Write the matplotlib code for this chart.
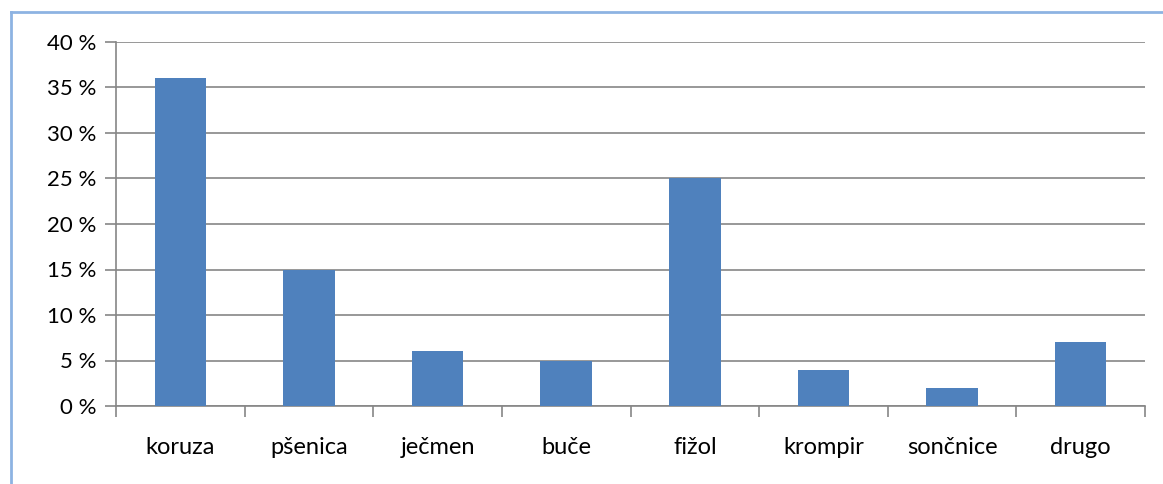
import matplotlib.pyplot as plt
from matplotlib.lines import Line2D

categories = ['koruza', 'pšenica', 'ječmen', 'buče', 'fižol', 'krompir', 'sončnice', 'drugo']
values = [36, 15, 6, 5, 25, 4, 2, 7]
y_ticks = [0, 5, 10, 15, 20, 25, 30, 35, 40]
y_labels = [f'{v} %' for v in y_ticks]

plt.rcParams['font.family'] = ['Lato', 'DejaVu Sans']

fig = plt.figure(figsize=(11.63, 4.84), dpi=100)
ax = fig.add_axes([116 / 1163, 1 - 406 / 484, (1145 - 116) / 1163, (406 - 42) / 484])

x = list(range(len(categories)))
ax.bar(x, values, width=0.4, color='#4F81BD', zorder=3)

ax.set_xlim(-0.5, len(categories) - 0.5)
ax.set_ylim(0, 40)
ax.set_yticks(y_ticks)
ax.set_yticklabels(y_labels, fontsize=16)
ax.set_xticks(x)
ax.set_xticklabels(categories, fontsize=17)
ax.tick_params(axis='x', length=0, pad=22)
ax.tick_params(axis='y', length=8, width=1.2, color='#868686', pad=6)

# category boundary ticks on x axis
ax.set_xticks([i - 0.5 for i in range(len(categories) + 1)], minor=True)
ax.tick_params(axis='x', which='minor', length=8, width=1.2, color='#868686')

ax.grid(axis='y', color='#868686', linewidth=1.2, zorder=0)
for side in ['top', 'right']:
    ax.spines[side].set_visible(False)
ax.spines['left'].set_color('#868686')
ax.spines['bottom'].set_color('#868686')
ax.spines['left'].set_linewidth(1.2)
ax.spines['bottom'].set_linewidth(1.2)

# light blue frame around the chart (left and top visible)
fig.add_artist(Line2D([10.5 / 1163, 10.5 / 1163], [0, 1 - 12 / 484],
                      color='#8DB3E2', linewidth=2, transform=fig.transFigure))
fig.add_artist(Line2D([10.5 / 1163, 1], [1 - 12 / 484, 1 - 12 / 484],
                      color='#8DB3E2', linewidth=2, transform=fig.transFigure))

fig.savefig('out.png', dpi=100)
